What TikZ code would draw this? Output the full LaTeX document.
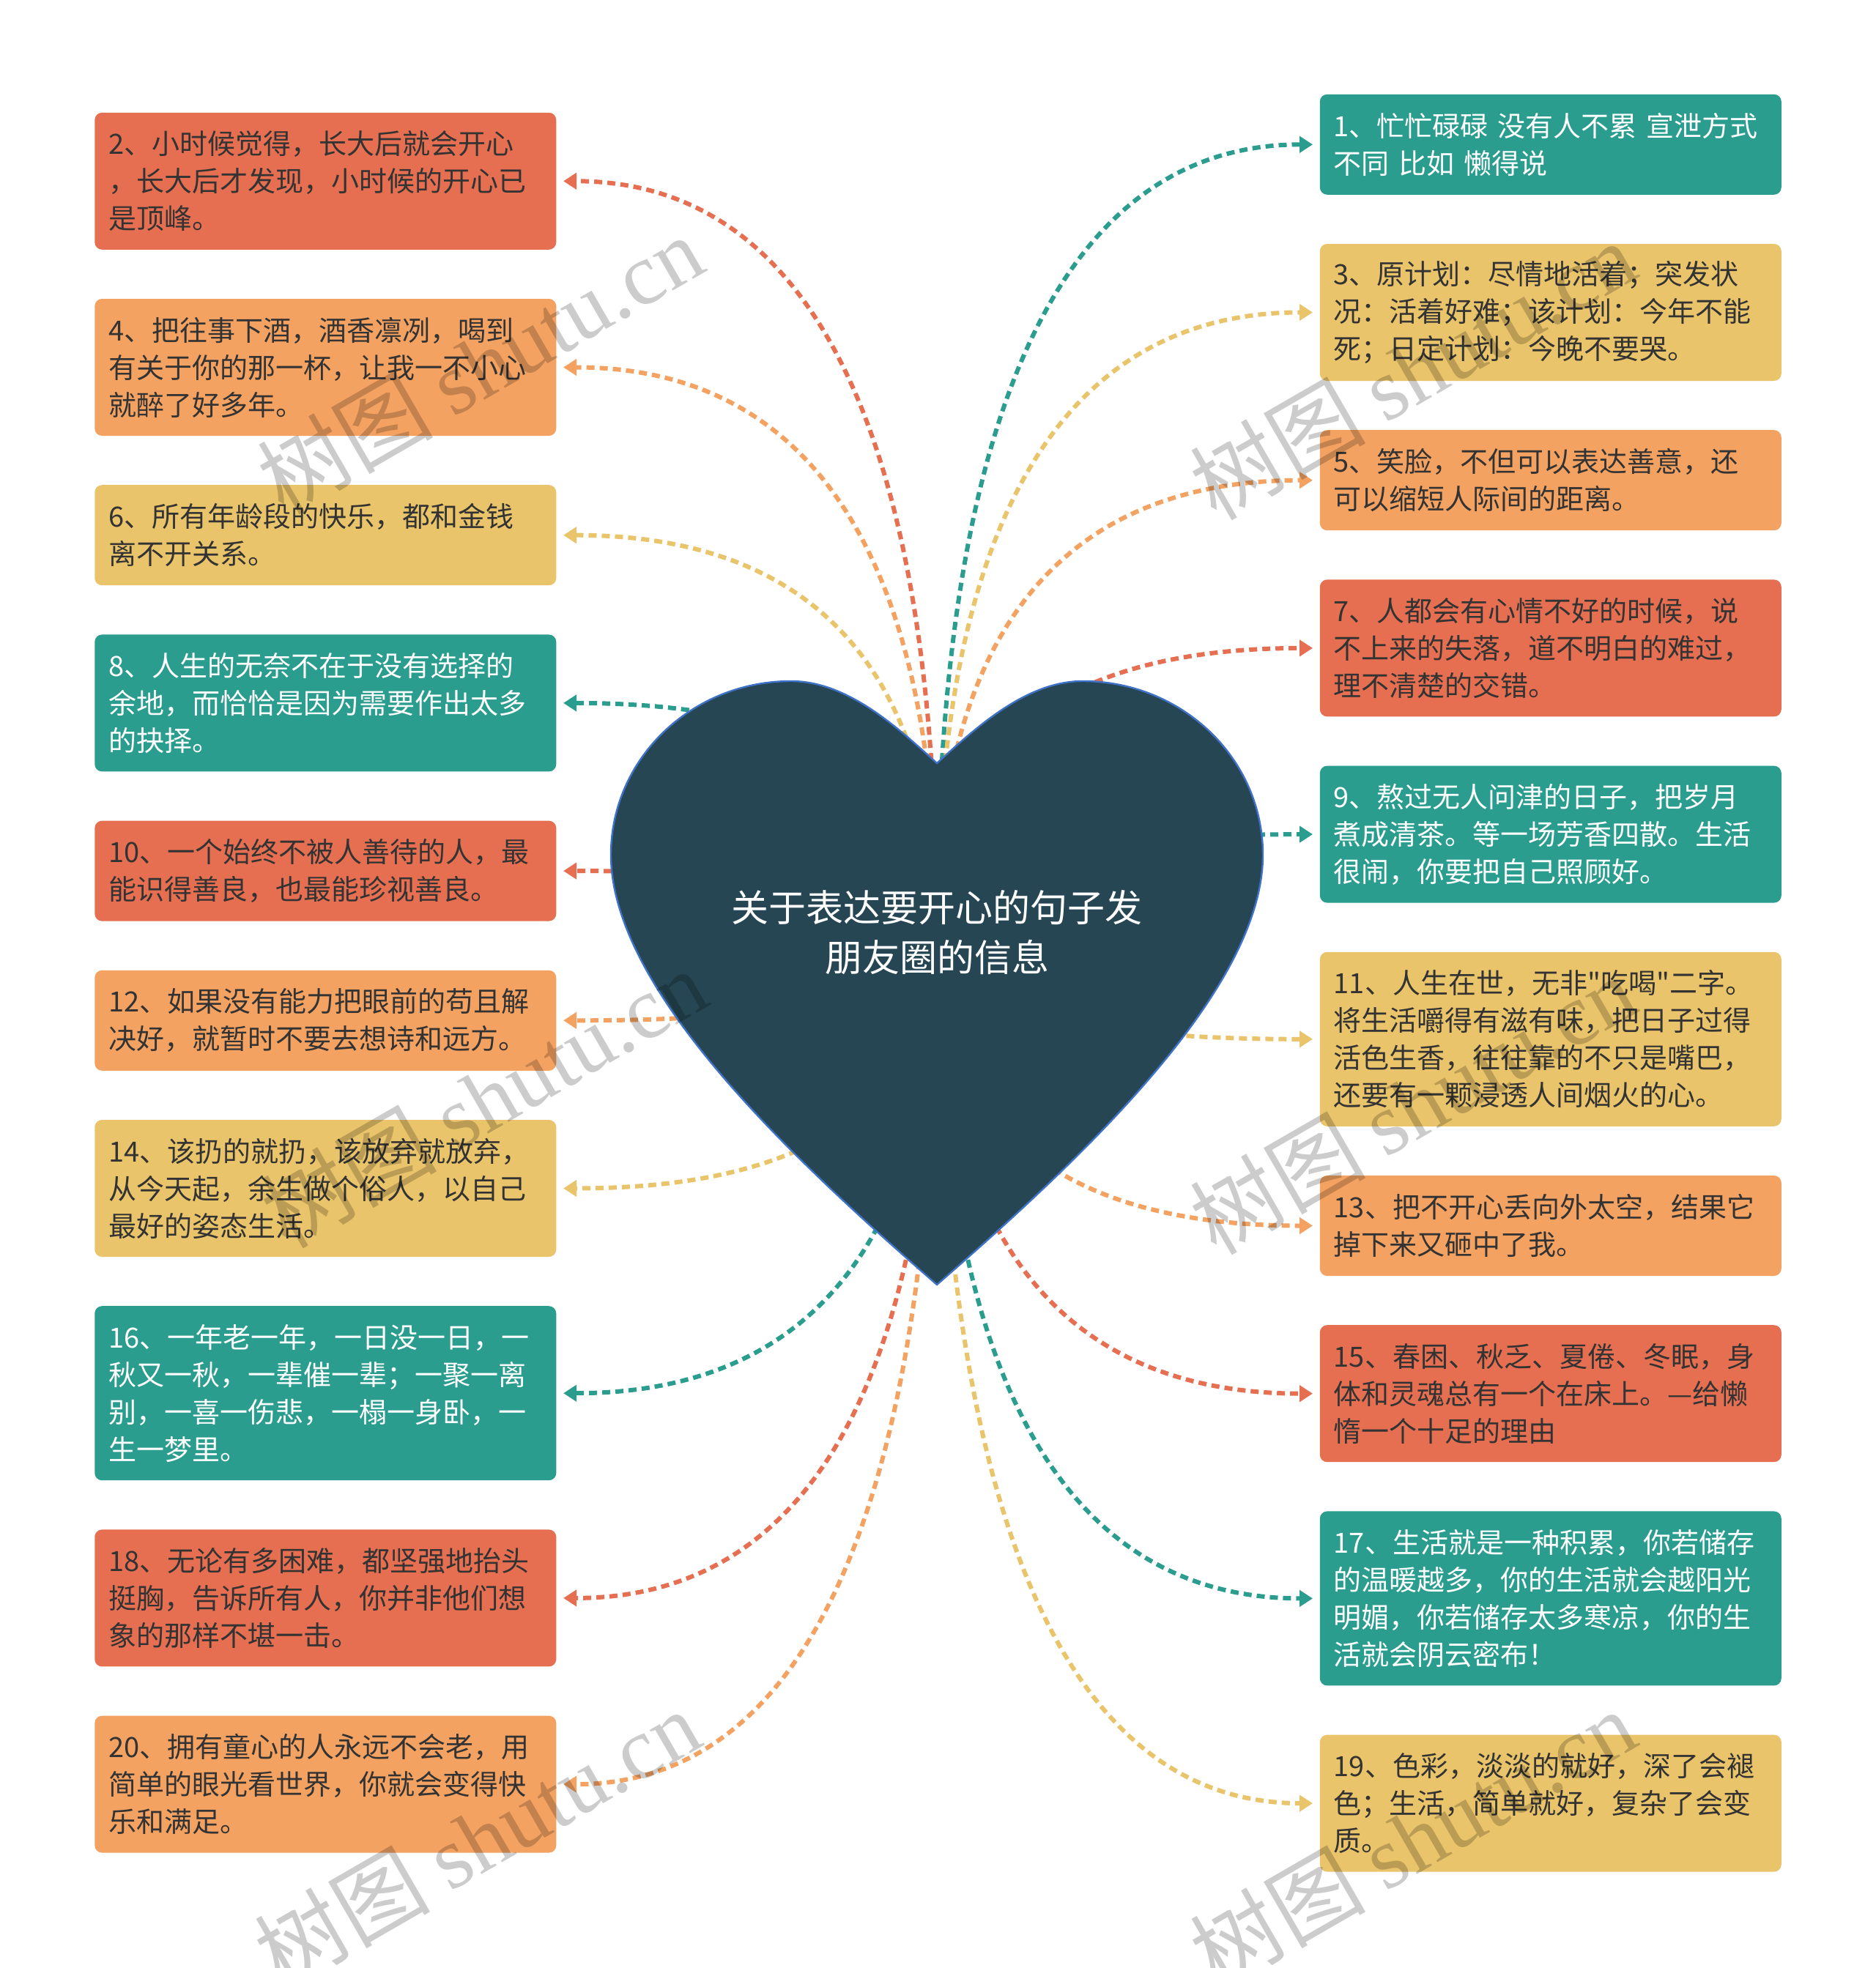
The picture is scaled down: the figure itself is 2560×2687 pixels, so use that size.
\documentclass[tikz,border=0pt]{standalone}
\usepackage{fontspec}
\setmainfont{Noto Sans CJK SC}
\newfontfamily\plaincjk{Noto Sans CJK SC}
\newfontfamily\markfont{Liberation Serif}
\usepackage{xcolor}
\definecolor{cInk}{HTML}{264653}
\definecolor{cTeal}{HTML}{2A9D8F}
\definecolor{cSand}{HTML}{E9C46A}
\definecolor{cPeach}{HTML}{F4A261}
\definecolor{cCoral}{HTML}{E76F51}
\definecolor{cEdge}{HTML}{3F72C6}
\definecolor{cText}{HTML}{333333}
\usetikzlibrary{positioning,arrows.meta,calc,backgrounds}
\tikzset{
  node-leaf/.style={rounded corners=2.5pt,text width=148pt,inner xsep=4.75pt,
    inner ysep=0pt,align=left,text=cText,
    font=\fontsize{9.5pt}{12.75pt}\selectfont},
  rows-2/.style={minimum height=34.25pt},
  rows-3/.style={minimum height=46.75pt},
  rows-4/.style={minimum height=59.5pt},
  leaf-teal/.style={fill=cTeal,text=white},
  leaf-sand/.style={fill=cSand},
  leaf-peach/.style={fill=cPeach},
  leaf-coral/.style={fill=cCoral},
  % quadratic bend: leaves the heart upright, reaches the box flat
  curve-link/.style={to path={.. controls
      ($(\tikztostart)!2/3!(\tikztostart|-\tikztotarget)$) and
      ($(\tikztotarget)!2/3!(\tikztostart|-\tikztotarget)$) .. (\tikztotarget)}},
  arrow/.style={curve-link,-{Triangle[length=4.5pt,width=5.5pt]},line width=1.5pt,
    dash pattern=on 2.75pt off 1.75pt,shorten >=2.25pt},
  arrow-teal/.style={arrow,draw=cTeal},
  arrow-sand/.style={arrow,draw=cSand},
  arrow-peach/.style={arrow,draw=cPeach},
  arrow-coral/.style={arrow,draw=cCoral},
  heart-shape/.style={fill=cInk,draw=cEdge,line width=0.6pt},
  watermark/.style={rotate=30,text=black,opacity=0.2,
    font=\fontsize{30pt}{30pt}\selectfont},
}

\begin{document}
\begin{tikzpicture}[x=0.25pt,y=-0.25pt,node distance=16.4pt]
  \useasboundingbox (0,0) rectangle (2560,2687);

  % left column
  \node[node-leaf,leaf-coral,rows-3,anchor=north west] (b2) at (128.5,153)
    {2、小时候觉得，长大后就会开心\\，长大后才发现，小时候的开心已\\是顶峰。};
  \node[node-leaf,leaf-peach,rows-3,below=of b2]  (b4)
    {4、把往事下酒，酒香凛冽，喝到\\有关于你的那一杯，让我一不小心\\就醉了好多年。};
  \node[node-leaf,leaf-sand,rows-2,below=of b4]   (b6)
    {6、所有年龄段的快乐，都和金钱\\离不开关系。};
  \node[node-leaf,leaf-teal,rows-3,below=of b6]   (b8)
    {8、人生的无奈不在于没有选择的\\余地，而恰恰是因为需要作出太多\\的抉择。};
  \node[node-leaf,leaf-coral,rows-2,below=of b8]  (b10)
    {10、一个始终不被人善待的人，最\\能识得善良，也最能珍视善良。};
  \node[node-leaf,leaf-peach,rows-2,below=of b10] (b12)
    {12、如果没有能力把眼前的苟且解\\决好，就暂时不要去想诗和远方。};
  \node[node-leaf,leaf-sand,rows-3,below=of b12]  (b14)
    {14、该扔的就扔，该放弃就放弃，\\从今天起，余生做个俗人，以自己\\最好的姿态生活。};
  \node[node-leaf,leaf-teal,rows-4,below=of b14]  (b16)
    {16、一年老一年，一日没一日，一\\秋又一秋，一辈催一辈；一聚一离\\别，一喜一伤悲，一榻一身卧，一\\生一梦里。};
  \node[node-leaf,leaf-coral,rows-3,below=of b16] (b18)
    {18、无论有多困难，都坚强地抬头\\挺胸，告诉所有人，你并非他们想\\象的那样不堪一击。};
  \node[node-leaf,leaf-peach,rows-3,below=of b18] (b20)
    {20、拥有童心的人永远不会老，用\\简单的眼光看世界，你就会变得快\\乐和满足。};

  % right column
  \node[node-leaf,leaf-teal,rows-2,anchor=north west] (b1) at (1801,128)
    {1、忙忙碌碌 没有人不累 宣泄方式\\不同 比如 懒得说};
  \node[node-leaf,leaf-sand,rows-3,below=of b1]   (b3)
    {3、原计划：尽情地活着；突发状\\况：活着好难；该计划：今年不能\\死；日定计划：今晚不要哭。};
  \node[node-leaf,leaf-peach,rows-2,below=of b3]  (b5)
    {5、笑脸，不但可以表达善意，还\\可以缩短人际间的距离。};
  \node[node-leaf,leaf-coral,rows-3,below=of b5]  (b7)
    {7、人都会有心情不好的时候，说\\不上来的失落，道不明白的难过，\\理不清楚的交错。};
  \node[node-leaf,leaf-teal,rows-3,below=of b7]   (b9)
    {9、熬过无人问津的日子，把岁月\\煮成清茶。等一场芳香四散。生活\\很闹，你要把自己照顾好。};
  \node[node-leaf,leaf-sand,rows-4,below=of b9]   (b11)
    {11、人生在世，无非{\plaincjk "}吃喝{\plaincjk "}二字。\\将生活嚼得有滋有味，把日子过得\\活色生香，往往靠的不只是嘴巴，\\还要有一颗浸透人间烟火的心。};
  \node[node-leaf,leaf-peach,rows-2,below=of b11] (b13)
    {13、把不开心丢向外太空，结果它\\掉下来又砸中了我。};
  \node[node-leaf,leaf-coral,rows-3,below=of b13] (b15)
    {15、春困、秋乏、夏倦、冬眠，身\\体和灵魂总有一个在床上。—给懒\\惰一个十足的理由};
  \node[node-leaf,leaf-teal,rows-4,below=of b15]  (b17)
    {17、生活就是一种积累，你若储存\\的温暖越多，你的生活就会越阳光\\明媚，你若储存太多寒凉，你的生\\活就会阴云密布！};
  \node[node-leaf,leaf-sand,rows-3,below=of b17]  (b19)
    {19、色彩，淡淡的就好，深了会褪\\色；生活，简单就好，复杂了会变\\质。};

  % centre
  \node[text=white,align=center,font=\fontsize{12.75pt}{17pt}\selectfont]
    (root) at (1279,1273) {关于表达要开心的句子发\\朋友圈的信息};

  \begin{scope}[on background layer]
    \fill[white] (0,0) rectangle (2560,2687);
    \draw[arrow-coral] (root.center) to (b2.east);
    \draw[arrow-peach] (root.center) to (b4.east);
    \draw[arrow-sand]  (root.center) to (b6.east);
    \draw[arrow-teal]  (root.center) to (b8.east);
    \draw[arrow-coral] (root.center) to (b10.east);
    \draw[arrow-peach] (root.center) to (b12.east);
    \draw[arrow-sand]  (root.center) to (b14.east);
    \draw[arrow-teal]  (root.center) to (b16.east);
    \draw[arrow-coral] (root.center) to (b18.east);
    \draw[arrow-peach] (root.center) to (b20.east);
    \draw[arrow-teal]  (root.center) to (b1.west);
    \draw[arrow-sand]  (root.center) to (b3.west);
    \draw[arrow-peach] (root.center) to (b5.west);
    \draw[arrow-coral] (root.center) to (b7.west);
    \draw[arrow-teal]  (root.center) to (b9.west);
    \draw[arrow-sand]  (root.center) to (b11.west);
    \draw[arrow-peach] (root.center) to (b13.west);
    \draw[arrow-coral] (root.center) to (b15.west);
    \draw[arrow-teal]  (root.center) to (b17.west);
    \draw[arrow-sand]  (root.center) to (b19.west);
    % heart
    \draw[heart-shape] (1279,1042)
      .. controls (1229,997) and (1159,930) .. (1080,930)
      .. controls (944,930) and (834,1036) .. (834,1167)
      .. controls (834,1350) and (1079,1580) .. (1279,1754)
      .. controls (1479,1580) and (1724,1350) .. (1724,1167)
      .. controls (1724,1036) and (1614,930) .. (1478,930)
      .. controls (1399,930) and (1329,997) .. (1279,1042) -- cycle;
  \end{scope}

  % watermarks
  \node[watermark] (wm1) at (655,497)   {树图 {\markfont shutu.cn}};
  \node[watermark] (wm2) at (1928,505)  {树图 {\markfont shutu.cn}};
  \node[watermark] (wm3) at (660,1499)  {树图 {\markfont shutu.cn}};
  \node[watermark] (wm4) at (1928,1508) {树图 {\markfont shutu.cn}};
  \node[watermark] (wm5) at (651,2510)  {树图 {\markfont shutu.cn}};
  \node[watermark] (wm6) at (1928,2510) {树图 {\markfont shutu.cn}};
\end{tikzpicture}
\end{document}
